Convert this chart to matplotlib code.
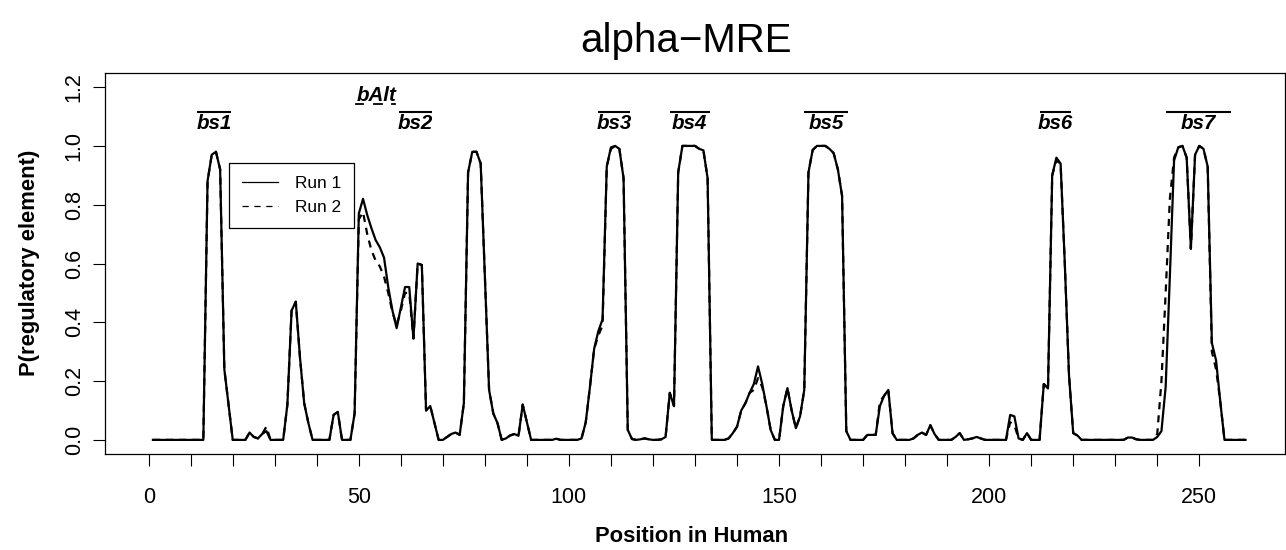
import numpy as np
import matplotlib
matplotlib.use("Agg")
import matplotlib.pyplot as plt
from matplotlib.lines import Line2D
from matplotlib.font_manager import FontProperties

plt.rcParams['font.family'] = ['Liberation Sans', 'DejaVu Sans']

# P(regulatory element) per position
run1 = [
    0, 0, 0, 0, 0, 0, 0, 0, 0, 0,
    0, 0, 0, 0.88, 0.97, 0.98, 0.92, 0.24, 0.12, 0,
    0, 0, 0, 0.025, 0.01, 0.005, 0.02, 0.03, 0, 0,
    0, 0, 0.12, 0.44, 0.47, 0.28, 0.125, 0.057, 0, 0,
    0, 0, 0, 0.085, 0.095, 0, 0, 0, 0.09, 0.77,
    0.82, 0.765, 0.72, 0.68, 0.655, 0.62, 0.52, 0.44, 0.38, 0.45,
    0.52, 0.52, 0.345, 0.60, 0.595, 0.10, 0.115, 0.057, 0, 0,
    0.01, 0.02, 0.025, 0.017, 0.125, 0.91, 0.98, 0.98, 0.94, 0.55,
    0.17, 0.09, 0.057, 0, 0.005, 0.015, 0.02, 0.014, 0.12, 0.06,
    0, 0, 0, 0, 0, 0, 0.004, 0, 0, 0,
    0, 0, 0.005, 0.06, 0.18, 0.31, 0.37, 0.41, 0.93, 0.995,
    1.0, 0.99, 0.89, 0.034, 0.003, 0, 0.002, 0.005, 0.002, 0,
    0, 0.002, 0.01, 0.16, 0.115, 0.91, 1.0, 1.0, 1.0, 1.0,
    0.99, 0.985, 0.89, 0, 0, 0, 0, 0.005, 0.023, 0.045,
    0.10, 0.125, 0.16, 0.19, 0.25, 0.19, 0.115, 0.034, 0, 0,
    0.115, 0.176, 0.10, 0.04, 0.08, 0.17, 0.91, 0.986, 1.0, 1.0,
    1.0, 0.99, 0.975, 0.92, 0.83, 0.03, 0, 0, 0, 0,
    0.017, 0.017, 0.017, 0.115, 0.15, 0.17, 0.023, 0, 0, 0,
    0, 0.005, 0.017, 0.025, 0.017, 0.05, 0.02, 0, 0, 0,
    0, 0.01, 0.023, 0, 0.002, 0.005, 0.01, 0.005, 0, 0,
    0, 0, 0, 0, 0.085, 0.08, 0.005, 0, 0.023, 0,
    0, 0, 0.19, 0.175, 0.90, 0.96, 0.94, 0.6, 0.22, 0.023,
    0.015, 0, 0, 0, 0, 0, 0, 0, 0, 0,
    0, 0, 0.008, 0.008, 0.002, 0, 0, 0, 0, 0.01,
    0.03, 0.18, 0.556, 0.95, 0.995, 1.0, 0.96, 0.65, 0.97, 1.0,
    0.99, 0.93, 0.33, 0.27, 0.13, 0, 0, 0, 0, 0,
    0,
]
run2 = [
    0, 0, 0, 0, 0, 0, 0, 0, 0, 0,
    0, 0, 0, 0.88, 0.97, 0.98, 0.92, 0.24, 0.12, 0,
    0, 0, 0, 0.025, 0.01, 0.005, 0.02, 0.045, 0, 0,
    0, 0, 0.12, 0.44, 0.47, 0.28, 0.125, 0.057, 0, 0,
    0, 0, 0, 0.085, 0.095, 0, 0, 0, 0.09, 0.75,
    0.775, 0.70, 0.645, 0.61, 0.59, 0.555, 0.50, 0.435, 0.39, 0.44,
    0.50, 0.50, 0.345, 0.60, 0.595, 0.10, 0.115, 0.057, 0, 0,
    0.01, 0.02, 0.025, 0.017, 0.125, 0.91, 0.98, 0.98, 0.94, 0.55,
    0.17, 0.09, 0.057, 0, 0.005, 0.015, 0.02, 0.014, 0.12, 0.06,
    0, 0, 0, 0, 0, 0, 0.004, 0, 0, 0,
    0, 0, 0.005, 0.06, 0.18, 0.31, 0.355, 0.39, 0.93, 0.99,
    1.0, 0.99, 0.89, 0.034, 0.003, 0, 0.002, 0.005, 0.002, 0,
    0, 0.002, 0.01, 0.16, 0.115, 0.91, 1.0, 1.0, 1.0, 1.0,
    0.99, 0.985, 0.89, 0, 0, 0, 0, 0.005, 0.023, 0.045,
    0.10, 0.125, 0.16, 0.17, 0.21, 0.18, 0.115, 0.034, 0, 0,
    0.115, 0.176, 0.10, 0.04, 0.08, 0.17, 0.91, 0.986, 1.0, 1.0,
    1.0, 0.99, 0.975, 0.92, 0.83, 0.03, 0, 0, 0, 0,
    0.017, 0.017, 0.017, 0.13, 0.15, 0.17, 0.023, 0, 0, 0,
    0, 0.005, 0.017, 0.025, 0.017, 0.05, 0.02, 0, 0, 0,
    0, 0.01, 0.023, 0, 0.002, 0.005, 0.01, 0.005, 0, 0,
    0, 0, 0, 0, 0.06, 0.05, 0.005, 0, 0.023, 0,
    0, 0, 0.19, 0.175, 0.90, 0.95, 0.94, 0.6, 0.22, 0.023,
    0.015, 0, 0, 0, 0, 0, 0, 0, 0, 0,
    0, 0, 0.008, 0.008, 0.002, 0, 0, 0, 0, 0.02,
    0.2, 0.5, 0.82, 0.96, 0.995, 1.0, 0.96, 0.65, 0.97, 1.0,
    0.99, 0.93, 0.30, 0.24, 0.13, 0, 0, 0, 0, 0,
    0,
]
positions = np.arange(1, len(run1) + 1)

# binding site annotations
site_names = ["bs1", "bs2", "bs3", "bs4", "bs5", "bs6", "bs7"]
site_start = [11.5, 59.5, 107, 124, 156, 212, 242]
site_end = [19.5, 67.5, 114.5, 133.5, 166.5, 219.5, 257.5]
alt_name = "bAlt"
# underline marks under b, A and t, as fractions of the label width
alt_marks = [(-0.02, 0.16), (0.44, 0.625), (0.88, 0.96)]
alt_pos = 54.3

W, H = 1286, 550
fig = plt.figure(figsize=(W / 100, H / 100), dpi=100)
ax = fig.add_axes([105 / W, 1 - 454 / H, (1285 - 105) / W, (454 - 73) / H])

ax.plot(positions, run1, color="black", lw=1.6, solid_joinstyle="round")
ax.plot(positions, run2, color="black", lw=1.6, linestyle=(0, (3.2, 2.7)))

ax.set_xlim(-10.4, 270.4)
ax.set_ylim(-0.048, 1.248)

xt = np.arange(0, 251, 10)
ax.set_xticks(xt)
ax.set_xticklabels([str(v) if v % 50 == 0 else "" for v in xt], fontsize=15.5)
yt = [0.0, 0.2, 0.4, 0.6, 0.8, 1.0, 1.2]
ax.set_yticks(yt)
ax.set_yticklabels([f"{v:.1f}" for v in yt], fontsize=15.5, rotation=90, va="center")
ax.tick_params(direction="out", length=8.6, width=0.8, color="black")
ax.tick_params(axis="x", pad=15)
ax.tick_params(axis="y", pad=6)
for s in ax.spines.values():
    s.set_linewidth(0.9)

# site bars and labels
ax.hlines([1.116] * len(site_names), site_start, site_end, color="black", lw=1.5)
for name, a, b in zip(site_names, site_start, site_end):
    ax.text((a + b) / 2, 1.075, name, ha="center", va="center", fontsize=14.8,
            fontweight="bold", fontstyle="italic")

# bAlt label with underline marks
alt_prop = FontProperties(family="Liberation Sans", weight="bold", style="italic", size=14.8)
alt_base = 1.152
ax.text(alt_pos, alt_base, alt_name, ha="center", va="baseline", fontproperties=alt_prop)
renderer = fig.canvas.get_renderer()
full_w = renderer.get_text_width_height_descent(alt_name, alt_prop, ismath=False)[0]
cx, by = ax.transData.transform((alt_pos, alt_base))
left = cx - full_w / 2
for f0, f1 in alt_marks:
    p0 = fig.transFigure.inverted().transform((left + f0 * full_w, by - 3))
    p1 = fig.transFigure.inverted().transform((left + f1 * full_w, by - 3))
    fig.add_artist(Line2D([p0[0], p1[0]], [p0[1], p1[1]], color="black", lw=1.3,
                          transform=fig.transFigure))

handles = [Line2D([], [], color="black", lw=0.9),
           Line2D([], [], color="black", lw=0.9, linestyle=(0, (5, 4.5)))]
leg = ax.legend(handles, ["Run 1", "Run 2"], loc="upper left",
                bbox_to_anchor=(229 / W, 1 - 163 / H), bbox_transform=fig.transFigure,
                borderaxespad=0, fontsize=12.4, fancybox=False, framealpha=1,
                edgecolor="black", borderpad=0.75, labelspacing=0.5,
                handlelength=2.1, handletextpad=1.0)
leg.get_frame().set_linewidth(0.9)

fig.text(686 / W, 1 - 41 / H, "alpha\u2212MRE", ha="center", va="center", fontsize=29)
fig.text(692 / W, 1 - 536 / H, "Position in Human", ha="center", va="center",
         fontsize=15.8, fontweight="bold")
fig.text(30 / W, 1 - 263 / H, "P(regulatory element)", ha="center", va="center",
         fontsize=15.8, fontweight="bold", rotation=90)

fig.savefig("out.png", dpi=100)
